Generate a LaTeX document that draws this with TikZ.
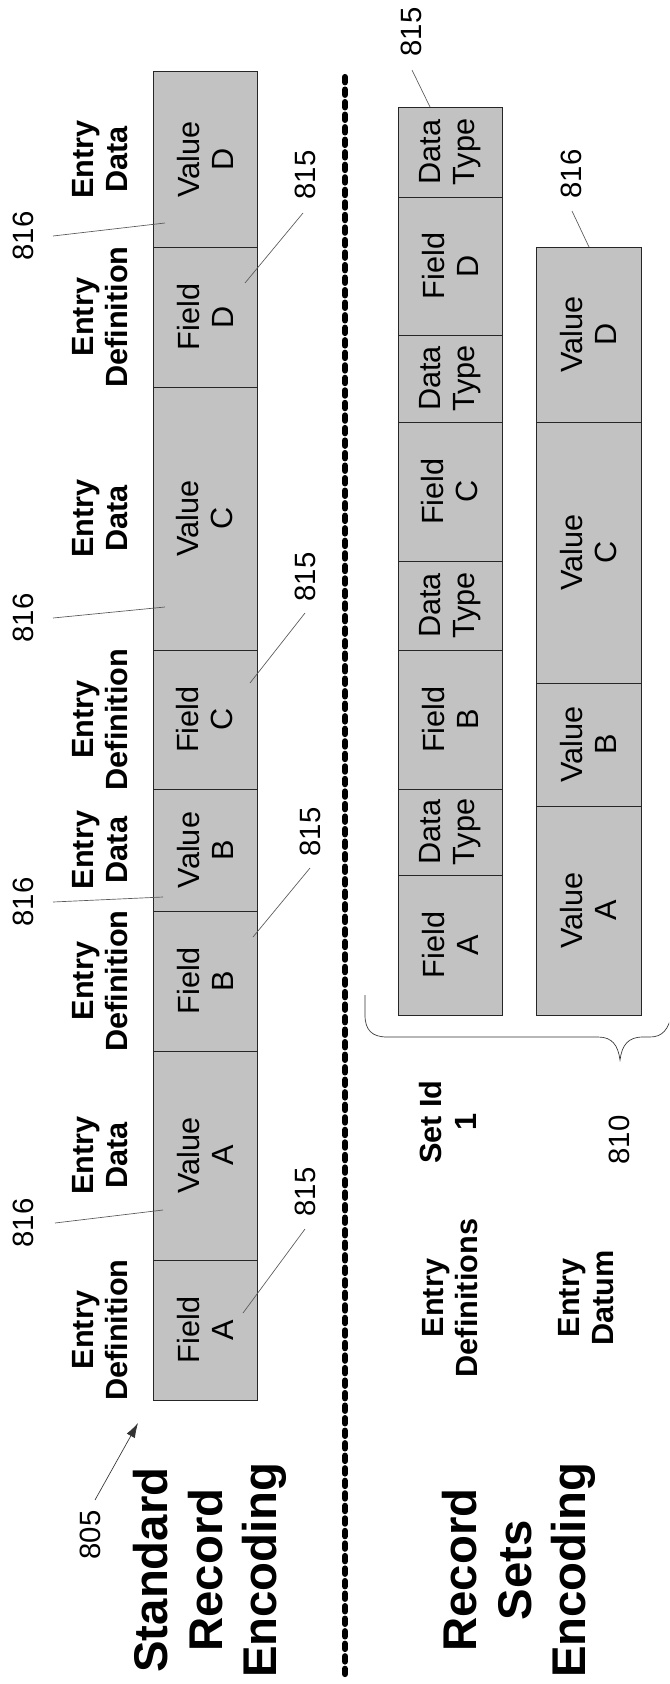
\documentclass[tikz,border=0pt]{standalone}
\usepackage{fontspec}
\setmainfont{Liberation Sans}
\usetikzlibrary{arrows.meta}
\begin{document}
\begin{tikzpicture}[x=0.75pt,y=-0.75pt,
 cell/.style={draw=black!85, line width=0.75pt, fill=black!24, rotate=90, inner sep=0pt, outer sep=0pt, align=center, font=\fontsize{23}{25.5}\selectfont, minimum height=78pt},
 lab/.style={rotate=90, align=center, font=\fontsize{23}{26}\selectfont\bfseries, inner sep=0pt},
 ttl/.style={rotate=90, align=center, font=\fontsize{35.5}{41}\selectfont\bfseries, inner sep=0pt},
 num/.style={rotate=90, font=\fontsize{22}{24}\selectfont, inner sep=0pt},
 lead/.style={draw=black!65, line width=0.5pt},
 sep/.style={line width=4.6pt, dash pattern=on 4pt off 5.4pt, line cap=round}
]
\useasboundingbox (0,0) rectangle (669,1684);
\clip (0,0) rectangle (669,1684);

% ---------- standard record encoding row ----------
\node[cell, minimum width=131.25pt] (sVD) at (205,159.5) {Value\\D};
\node[cell, minimum width=105pt]    (sFD) at (205,317)   {Field\\D};
\node[cell, minimum width=197.25pt] (sVC) at (205,518.5) {Value\\C};
\node[cell, minimum width=104.25pt] (sFC) at (205,719.5) {Field\\C};
\node[cell, minimum width=91.5pt]   (sVB) at (205,850)   {Value\\B};
\node[cell, minimum width=105pt]    (sFB) at (205,981)   {Field\\B};
\node[cell, minimum width=156.75pt] (sVA) at (205,1155.5){Value\\A};
\node[cell, minimum width=105pt]    (sFA) at (205,1330)  {Field\\A};

% labels above
\node[lab] (lVD) at (100,159.5) {Entry\\Data};
\node[lab] (lFD) at (100,317)   {Entry\\Definition};
\node[lab] (lVC) at (100,518.5) {Entry\\Data};
\node[lab] (lFC) at (100,719.5) {Entry\\Definition};
\node[lab] (lVB) at (100,850)   {Entry\\Data};
\node[lab] (lFB) at (100,981)   {Entry\\Definition};
\node[lab] (lVA) at (100,1155.5){Entry\\Data};
\node[lab] (lFA) at (100,1330)  {Entry\\Definition};

% 816 leaders (top)
\node[num] (n816a) at (23,236)  {816};
\node[num] (n816b) at (23,618)  {816};
\node[num] (n816c) at (23,902)  {816};
\node[num] (n816d) at (23,1223) {816};
\coordinate (s816a) at (53,236);
\coordinate (s816b) at (53,618);
\coordinate (s816c) at (53,902);
\coordinate (s816d) at (55,1223);
\coordinate (e816a) at (165,223);
\coordinate (e816b) at (165,607);
\coordinate (e816c) at (163,897);
\coordinate (e816d) at (163,1210);
\draw[lead] (s816a) -- (e816a);
\draw[lead] (s816b) -- (e816b);
\draw[lead] (s816c) -- (e816c);
\draw[lead] (s816d) -- (e816d);

% 815 leaders (top)
\node[num] (n815a) at (305,175)  {815};
\node[num] (n815b) at (305,577)  {815};
\node[num] (n815c) at (310,832)  {815};
\node[num] (n815d) at (305,1192) {815};
\coordinate (s815a) at (303,213);
\coordinate (s815b) at (305,613);
\coordinate (s815c) at (310,868);
\coordinate (s815d) at (305,1229);
\coordinate (e815a) at (245,283);
\coordinate (e815b) at (250,683);
\coordinate (e815c) at (253,937);
\coordinate (e815d) at (243,1313);
\draw[lead] (s815a) -- (e815a);
\draw[lead] (s815b) -- (e815b);
\draw[lead] (s815c) -- (e815c);
\draw[lead] (s815d) -- (e815d);

% 805
\node[num] (n805) at (90,1535) {805};
\coordinate (a805s) at (95,1500);
\coordinate (a805e) at (138,1423);
\draw[black!80, line width=0.5pt, -{Latex[length=11pt,width=7pt]}] (a805s) -- (a805e);

% title 1
\node[ttl] (t1) at (210,1570) {Standard\\Record\\Encoding};

% separator
\coordinate (sepT) at (345,77);
\coordinate (sepB) at (345,1680);
\draw[sep] (sepT) -- (sepB);

% ---------- record sets encoding ----------
\node[cell, minimum width=67.5pt]  (dT4) at (450,152)   {Data\\Type};
\node[cell, minimum width=103.5pt] (dFD) at (450,266)   {Field\\D};
\node[cell, minimum width=65.25pt] (dT3) at (450,378.5) {Data\\Type};
\node[cell, minimum width=104.25pt](dFC) at (450,491.5) {Field\\C};
\node[cell, minimum width=66.75pt] (dT2) at (450,605.5) {Data\\Type};
\node[cell, minimum width=104.25pt](dFB) at (450,719.5) {Field\\B};
\node[cell, minimum width=64.5pt]  (dT1) at (450,832)   {Data\\Type};
\node[cell, minimum width=105pt]   (dFA) at (450,945)   {Field\\A};

\node[cell, minimum width=131.25pt, minimum height=78.75pt] (vD) at (588.5,334.5) {Value\\D};
\node[cell, minimum width=195.75pt, minimum height=78.75pt] (vC) at (588.5,552.5) {Value\\C};
\node[cell, minimum width=92.25pt,  minimum height=78.75pt] (vB) at (588.5,744.5) {Value\\B};
\node[cell, minimum width=156.75pt, minimum height=78.75pt] (vA) at (588.5,910.5) {Value\\A};

\node[num] (n815e) at (411,32)  {815};
\node[num] (n816e) at (571,174) {816};
\coordinate (s815e) at (412,70);
\coordinate (s816e) at (572,211);
\coordinate (e815e) at (430,107);
\coordinate (e816e) at (589,247);
\draw[lead] (s815e) -- (e815e);
\draw[lead] (s816e) -- (e816e);

% brace
\draw[black!80, line width=0.5pt] (365,995) -- (365,1015) .. controls (365,1030) and (372,1037) .. (387,1037)
  -- (598,1037) .. controls (612,1037) and (618,1045) .. (620,1060)
  .. controls (622,1045) and (628,1037) .. (643,1037) -- (650,1037)
  .. controls (662,1037) and (669,1030) .. (672,1012);
\node[num] (n810) at (619,1140) {810};

\node[lab] (setid) at (448,1122) {Set Id\\1};
\node[lab] (ldefs) at (450,1298) {Entry\\Definitions};
\node[lab] (ldat)  at (586,1298) {Entry\\Datum};

\node[ttl] (t2) at (519,1570) {Record\\Sets\\Encoding};
\end{tikzpicture}
\end{document}
